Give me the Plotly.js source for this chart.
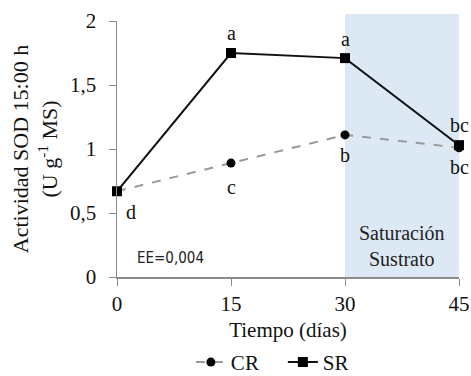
<!DOCTYPE html>
<html>
<head>
<meta charset="utf-8">
<script src="https://cdn.plot.ly/plotly-3.0.1.min.js"></script>
<style>html,body{margin:0;padding:0;background:#fff;}#chart{width:471px;height:376px;}</style>
</head>
<body>
<div id="chart"></div>
<script>
// Data
var days = [0, 15, 30, 45];
var crValues = [0.67, 0.89, 1.11, 1.01];
var srValues = [0.67, 1.75, 1.71, 1.03];
var xTickVals = [0, 15, 30, 45];
var yTickVals = [0, 0.5, 1, 1.5, 2];
var seriesNames = ['CR', 'SR'];
var srLetters = ['d', 'a', 'a', 'bc'];
var crLetters = ['', 'c', 'b', 'bc'];
var shadeStart = 30, shadeEnd = 45;

var serif = 'Liberation Serif, Times New Roman, serif';

var traces = [
  {x: days, y: crValues, name: seriesNames[0], mode: 'lines+markers', cliponaxis: false,
   line: {color: '#9a9a9a', width: 2, dash: 'dash'},
   marker: {symbol: 'circle', size: 9, color: '#000'}},
  {x: days, y: srValues, name: seriesNames[1], mode: 'lines+markers', cliponaxis: false,
   line: {color: '#111', width: 2},
   marker: {symbol: 'square', size: 10, color: '#000'}}
];

var annotations = [];
var srShift = [-21, 20, 19, 20];
var srXShift = [14, 0, 0, 0];
for (var i = 0; i < days.length; i++) {
  if (srLetters[i]) annotations.push({x: days[i], y: srValues[i], text: srLetters[i], showarrow: false,
    yshift: srShift[i], xshift: srXShift[i], font: {family: serif, size: 20, color: '#111'}});
}
var crShift = [0, -24, -20, -19];
for (var j = 0; j < days.length; j++) {
  if (crLetters[j]) annotations.push({x: days[j], y: crValues[j], text: crLetters[j], showarrow: false,
    yshift: crShift[j], font: {family: serif, size: 20, color: '#111'}});
}
annotations.push({x: 7, y: 0.15, text: 'EE=0,004', showarrow: false,
  font: {family: 'DejaVu Sans Condensed, Liberation Sans, sans-serif', size: 15, color: '#222'}});
annotations.push({x: 37.5, y: 0.24, text: 'Saturación<br>Sustrato', showarrow: false,
  font: {family: serif, size: 20, color: '#222'}});

var layout = {
  width: 471, height: 376,
  margin: {l: 117, r: 12, t: 21, b: 99},
  paper_bgcolor: '#fff', plot_bgcolor: 'rgba(0,0,0,0)',
  separators: ',.',
  showlegend: true,
  legend: {orientation: 'h', x: 0.485, xanchor: 'center', yref: 'container', y: 0.036, yanchor: 'middle',
    font: {family: serif, size: 21, color: '#111'}, itemwidth: 30, entrywidth: 47, entrywidthmode: 'pixels', tracegroupgap: 0},
  xaxis: {range: [0, 45], tickvals: xTickVals, showgrid: false, zeroline: false, automargin: false,
    showline: true, linecolor: '#8c8c8c', linewidth: 1.5, ticks: 'outside', ticklen: 7, tickcolor: '#8c8c8c',
    tickfont: {family: serif, size: 21, color: '#111'},
    title: {text: 'Tiempo (días)', font: {family: serif, size: 21, color: '#111'}, standoff: 12}},
  yaxis: {range: [0, 2], tickvals: yTickVals, showgrid: false, zeroline: false, automargin: false,
    showline: true, linecolor: '#8c8c8c', linewidth: 1.5, ticks: 'outside', ticklen: 7, tickcolor: '#8c8c8c',
    ticklabelstandoff: 8,
    tickfont: {family: serif, size: 21, color: '#111'},
    title: {text: 'Actividad SOD 15:00 h<br>(U g<sup>-1</sup> MS)', font: {family: serif, size: 22, color: '#111'}, standoff: 6}},
  shapes: [{type: 'rect', xref: 'x', yref: 'paper', x0: shadeStart, x1: shadeEnd, y0: 0, y1: 1.027,
    fillcolor: '#dce9f4', line: {width: 0}, layer: 'below'}],
  annotations: annotations
};

Plotly.newPlot('chart', traces, layout, {displayModeBar: false, staticPlot: true});
</script>
</body>
</html>
